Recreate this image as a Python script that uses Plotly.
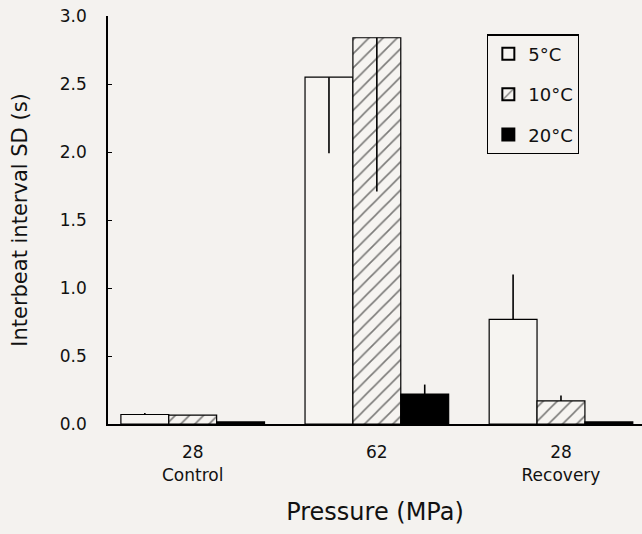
import plotly.graph_objects as go

categories = ["28<br>Control", "62", "28<br>Recovery"]
series_names = ["5°C", "10°C", "20°C"]
val_5 = [0.07, 2.55, 0.77]
val_10 = [0.065, 2.84, 0.17]
val_20 = [0.015, 0.22, 0.015]
err_up_5 = [0.01, 0.0, 0.33]
err_dn_5 = [0.0, 0.56, 0.0]
err_up_10 = [0.0, 0.0, 0.04]
err_dn_10 = [0.0, 1.13, 0.0]
err_up_20 = [0.0, 0.07, 0.0]
err_dn_20 = [0.0, 0.0, 0.0]

bg = "#f4f2ef"
x = [0, 1, 2]

fig = go.Figure()
specs = [
    (series_names[0], val_5, err_up_5, err_dn_5, dict(color="#f6f4f1", line=dict(color="black", width=1.2))),
    (series_names[1], val_10, err_up_10, err_dn_10, dict(color="#f6f4f1", line=dict(color="black", width=1.2),
                                                          pattern=dict(shape="/", fgcolor="#000", bgcolor="#f6f4f1", size=10, solidity=0.16))),
    (series_names[2], val_20, err_up_20, err_dn_20, dict(color="black", line=dict(color="black", width=1.2))),
]
for i, (name, vals, up, dn, marker) in enumerate(specs):
    fig.add_trace(go.Bar(
        x=x, y=vals, name=name, marker=marker, legendgroup=f"g{i}",
        error_y=dict(type="data", symmetric=False, array=up, arrayminus=dn,
                     color="black", thickness=1.6, width=0),
    ))

fig.update_layout(
    width=642, height=534,
    margin=dict(l=108, r=0, t=16, b=110),
    paper_bgcolor=bg, plot_bgcolor=bg,
    barmode="group", bargap=0.22, bargroupgap=0,
    font=dict(family="DejaVu Sans, Arial, sans-serif", color="#111", size=17),
    showlegend=True,
    legend=dict(x=0.71, y=0.955, xanchor="left", yanchor="top",
                bgcolor=bg, bordercolor="black", borderwidth=1.2,
                font=dict(size=18), itemsizing="constant", tracegroupgap=14,
                traceorder="grouped"),
    xaxis=dict(range=[-0.46, 2.44], tickvals=x, ticktext=categories,
               showline=True, linecolor="black", linewidth=2,
               ticks="", showgrid=False, zeroline=False, ticklabelstandoff=12,
               title=dict(text="Pressure (MPa)", font=dict(size=24), standoff=20),
               tickfont=dict(size=17)),
    yaxis=dict(range=[0, 3.0], tickvals=[0, 0.5, 1.0, 1.5, 2.0, 2.5, 3.0],
               ticktext=["0.0", "0.5", "1.0", "1.5", "2.0", "2.5", "3.0"],
               showline=True, linecolor="black", linewidth=1.5,
               ticks="inside", ticklen=4, tickcolor="black",
               showgrid=False, zeroline=False, ticklabelstandoff=16,
               title=dict(text="Interbeat interval SD (s)", font=dict(size=21), standoff=26),
               tickfont=dict(size=17)),
)

fig.write_html("out.html", post_script="document.body.style.margin='0';",
               config={"displayModeBar": False})
